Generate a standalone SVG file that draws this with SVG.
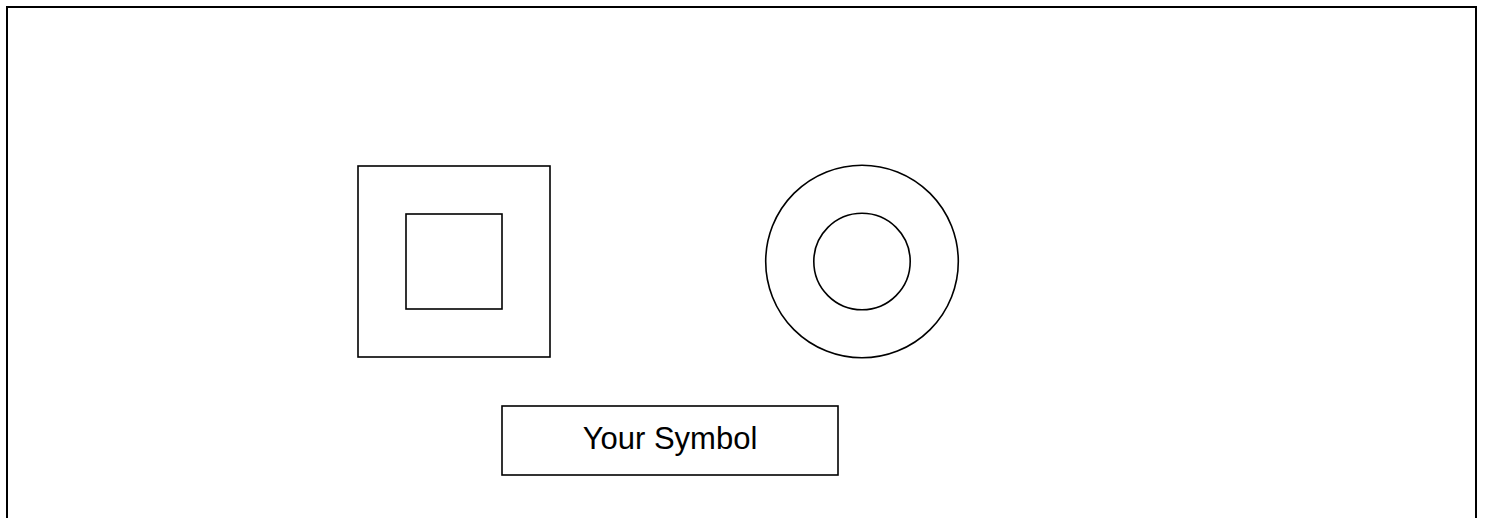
<svg xmlns="http://www.w3.org/2000/svg" width="1486" height="518" viewBox="0 0 1486 518">
<style>
.s{fill:none;stroke:#000;stroke-width:1.6}
.t{font-family:"Liberation Sans",Arial,sans-serif;font-size:31px;fill:#000}
</style>
<rect x="0" y="0" width="1486" height="518" fill="#fff"/>
<g id="frame"><path d="M7,530 V7 H1476 V530" fill="none" stroke="#000" stroke-width="2"/></g>
<g id="square-symbol">
<rect class="s" x="358" y="166" width="192" height="191"/>
<rect class="s" x="406" y="214" width="96" height="95"/>
</g>
<g id="circle-symbol">
<circle class="s" cx="862" cy="261.5" r="96.3"/>
<circle class="s" cx="862" cy="261.5" r="48.2"/>
</g>
<g id="label">
<rect class="s" x="502" y="406" width="336" height="69"/>
<text class="t" x="670" y="449" text-anchor="middle">Your Symbol</text>
</g>
<g id="connectors"></g>
</svg>
